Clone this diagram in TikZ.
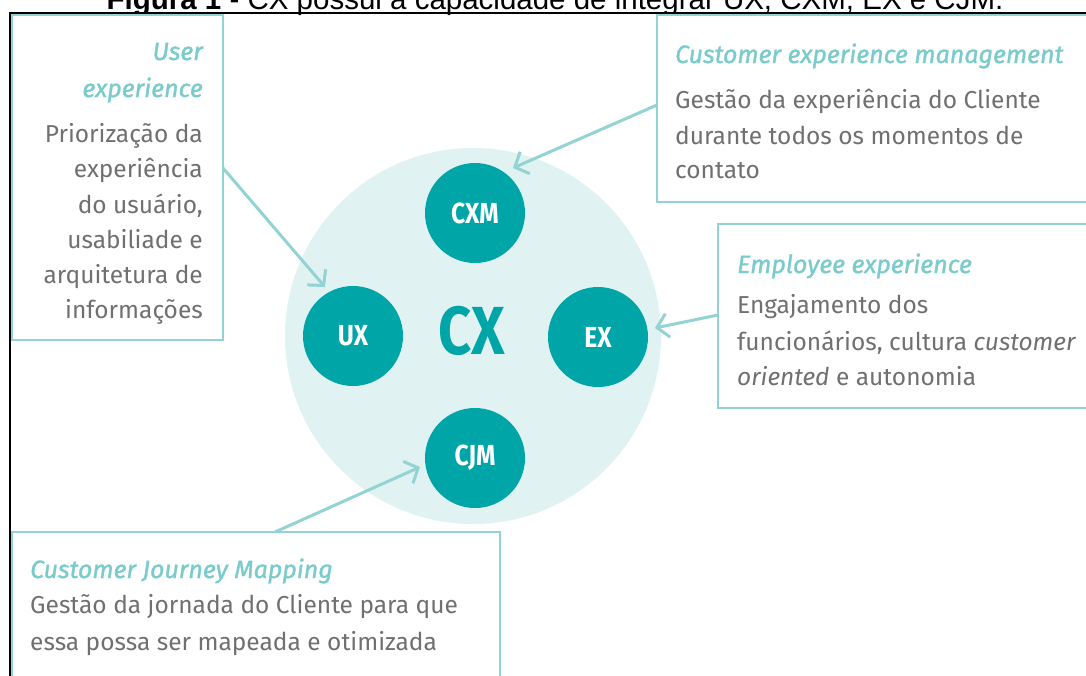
\documentclass[tikz,border=0pt]{standalone}
\usepackage{fontspec}
\setmainfont{Fira Sans}
\newfontfamily\condfont[FakeStretch=0.85]{Fira Sans}
\newfontfamily\hdfont[ItalicFeatures={FakeBold=1.2}]{Fira Sans}
\newfontfamily\arialfont{Liberation Sans}
\usetikzlibrary{arrows.meta}
\definecolor{boxc}{HTML}{93D3D3}
\definecolor{titc}{HTML}{7ACBCB}
\definecolor{bodyc}{HTML}{707070}
\definecolor{tealc}{HTML}{00A5A8}
\definecolor{bgc}{HTML}{E1F2F3}
\tikzset{
  infobox/.style={draw=boxc, line width=2.5pt},
  hd/.style={inner sep=0pt, text=titc, font=\hdfont\fontsize{25}{30}\selectfont\itshape},
  bd/.style={inner sep=0pt, text=bodyc, font=\rmfamily\fontsize{24.5}{30}\selectfont},
  dot/.style={circle, fill=tealc, minimum size=100pt, inner sep=0pt, text=white, font=\condfont\fontsize{29}{30}\selectfont\bfseries},
  arr/.style={draw=boxc, line width=3pt, -{Straight Barb[length=11pt,width=24pt]}},
}
\begin{document}
\begin{tikzpicture}[x=1pt,y=-1pt]
\useasboundingbox (0,0) rectangle (1086,675);
\fill[white] (0,0) rectangle (1086,675);
% caption
\node[anchor=base, inner sep=0pt, font=\arialfont\fontsize{29.5}{30}\selectfont] (cap) at (555,9) {\textbf{Figura 1} - CX possui a capacidade de integrar UX, CXM, EX e CJM.};
% frame
\draw[black, line width=2pt] (10,700) -- (10,12.5) -- (1100,12.5);
% big circle
\node[circle, fill=bgc, minimum size=376pt, inner sep=0pt] (cx) at (473,336) {};
\node[inner sep=0pt, text=tealc, font=\condfont\fontsize{68}{70}\selectfont\bfseries] (cxt) at (472,331) {CX};
\node[dot] (cxm) at (475,213) {CXM};
\node[dot] (ux) at (353,336) {UX};
\node[dot] (ex) at (598,337) {EX};
\node[dot] (cjm) at (475,458) {CJM};
% boxes
\draw[infobox] (12,15) rectangle (223,340);
\draw[infobox] (657,15) rectangle (1100,202);
\draw[infobox] (718,224) rectangle (1100,408);
\draw[infobox] (12,532) rectangle (500,700);
% UX text
\node[hd, anchor=base east] (u1) at (203,60) {User};
\node[hd, anchor=base east] (u2) at (203,97) {experience};
\node[bd, anchor=base east] (u3) at (203,142) {Priorização da};
\node[bd, anchor=base east] (u4) at (203,177) {experiência};
\node[bd, anchor=base east] (u5) at (203,213) {do usuário,};
\node[bd, anchor=base east] (u6) at (203,248) {usabiliade e};
\node[bd, anchor=base east] (u7) at (203,283) {arquitetura de};
\node[bd, anchor=base east] (u8) at (203,318) {informações};
% CXM text
\node[hd, anchor=base west] (c1) at (675,63) {Customer experience management};
\node[bd, anchor=base west] (c2) at (675,108) {Gestão da experiência do Cliente};
\node[bd, anchor=base west] (c3) at (675,144) {durante todos os momentos de};
\node[bd, anchor=base west] (c4) at (675,178) {contato};
% EX text
\node[hd, anchor=base west] (e1) at (737,273) {Employee experience};
\node[bd, anchor=base west] (e2) at (737,313) {Engajamento dos};
\node[bd, anchor=base west] (e3) at (737,350) {funcionários, cultura \textit{customer}};
\node[bd, anchor=base west] (e4) at (737,385) {\textit{oriented} e autonomia};
% CJM text
\node[hd, anchor=base west] (j1) at (30,578) {Customer Journey Mapping};
\node[bd, anchor=base west] (j2) at (30,613) {Gestão da jornada do Cliente para que};
\node[bd, anchor=base west] (j3) at (30,650) {essa possa ser mapeada e otimizada};
% arrows
\coordinate (uxs) at (223,168);
\coordinate (uxe) at (325,287);
\coordinate (cxms) at (657,105);
\coordinate (cxme) at (513,168);
\coordinate (exs) at (718,315);
\coordinate (exe) at (655,328);
\coordinate (cjms) at (275,532);
\coordinate (cjme) at (420,467);
\draw[arr] (uxs) -- (uxe);
\draw[arr] (cxms) -- (cxme);
\draw[arr] (exs) -- (exe);
\draw[arr] (cjms) -- (cjme);
\end{tikzpicture}
\end{document}
